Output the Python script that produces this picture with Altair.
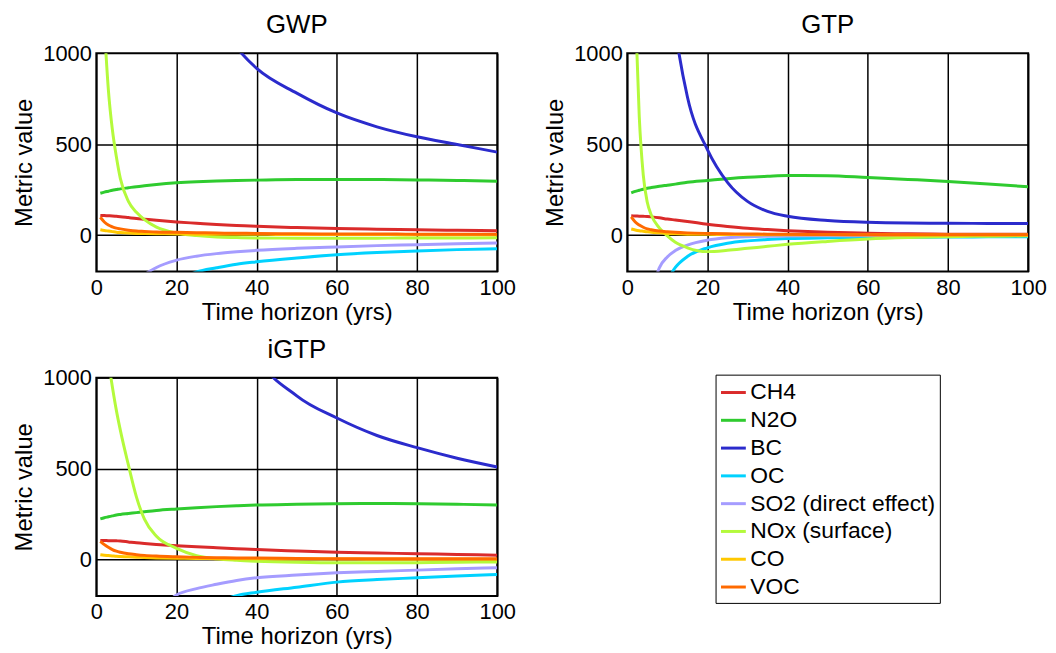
import altair as alt
import pandas as pd

SERIES = ["CH4", "N2O", "BC", "OC", "SO2 (direct effect)", "NOx (surface)", "CO", "VOC"]
COLORS = ["#DA2B2B", "#2FCB2F", "#2B2BCC", "#00D2FF", "#A59CFF", "#B4FA3C", "#FFC800", "#FF6A00"]

H = [1, 2, 3, 4, 5, 6, 8, 10, 12, 15, 20, 25, 30, 35, 40, 50, 60, 70, 80, 90, 100]
N = None

# ---- GWP ----
GWP_CH4 = [108, 107, 106, 105, 103, 101, 96, 91, 87, 81, 72, 65, 58, 53, 48, 41, 36, 32, 29, 26, 24]
GWP_N2O = [230, 236, 241, 246, 250, 254, 260, 266, 271, 278, 287, 293, 297, 300, 302, 305, 305, 305, 303, 300, 296]
GWP_BC = [N, N, N, N, N, N, N, N, N, N, 1650, 1380, 1180, 1030, 916, 780, 671, 595, 540, 498, 456]
GWP_OC = [N, N, N, N, N, N, N, N, N, N, -250, -203, -180, -160, -147, -126, -108, -96, -87, -80, -75]
GWP_SO2 = [N, N, N, N, N, N, N, -270, -220, -178, -138, -116, -102, -92, -84, -73, -65, -58, -53, -48, -44]
GWP_NOX = [N, 1150, 800, 580, 430, 310, 185, 125, 85, 44, 11, -3, -11, -14, -16, -17, -17, -17, -16, -16, -15]
GWP_CO = [29, 25, 22, 19, 16, 14, 11, 9, 8, 7, 6, 5, 5, 4, 4, 3, 3, 3, 2, 2, 2]
GWP_VOC = [98, 72, 55, 45, 38, 34, 27, 22, 20, 17, 15, 13, 11, 10, 9, 7, 6, 6, 5, 5, 5]

# ---- GTP ----
GTP_CH4 = [106, 105, 104, 103, 102, 100, 95, 88, 83, 75, 59, 47, 37, 30, 24, 15, 10, 7, 5, 4, 4]
GTP_N2O = [232, 240, 246, 252, 257, 261, 268, 274, 280, 290, 300, 310, 318, 323, 327, 326, 316, 306, 295, 281, 265]
GTP_BC = [N, N, N, N, N, N, N, 1500, 1130, 760, 470, 290, 185, 130, 103, 80, 70, 66, 65, 64, 64]
GTP_OC = [N, N, N, N, N, N, N, -250, -178, -118, -70, -45, -32, -24, -19, -15, -13, -12, -11, -10, -10]
GTP_SO2 = [N, N, N, N, N, -330, -180, -120, -85, -55, -28, -15, -9, -6, -5, -4, -3, -3, -2, -2, -2]
GTP_NOX = [N, 1250, 650, 330, 180, 110, 40, -5, -40, -70, -91, -84, -73, -62, -51, -35, -22, -14, -9, -6, -4]
GTP_CO = [33, 28, 24, 21, 18, 16, 12, 9, 7, 5, 4, 3, 2, 2, 1, 1, 1, 0, 0, 0, 0]
GTP_VOC = [100, 72, 55, 43, 34, 29, 22, 18, 15, 12, 9, 7, 6, 5, 4, 3, 2, 2, 1, 1, 1]

# ---- iGTP ----
IGTP_CH4 = [105, 105, 104, 104, 103, 102, 97, 92, 88, 83, 76, 70, 65, 60, 55, 47, 40, 36, 32, 28, 24]
IGTP_N2O = [224, 230, 235, 240, 245, 248, 253, 258, 263, 270, 278, 285, 291, 296, 300, 304, 307, 308, 307, 304, 300]
IGTP_BC = [N, N, N, N, N, N, N, N, N, N, N, N, 1750, 1400, 1130, 900, 778, 682, 615, 557, 509]
IGTP_OC = [N, N, N, N, N, N, N, N, N, N, N, N, -235, -198, -180, -152, -124, -110, -100, -90, -82]
IGTP_SO2 = [N, N, N, N, N, N, N, N, N, -290, -195, -160, -136, -115, -100, -85, -73, -65, -58, -51, -45]
IGTP_NOX = [N, N, 1090, 950, 820, 710, 520, 345, 222, 128, 62, 22, 4, -4, -9, -15, -18, -18, -17, -15, -13]
IGTP_CO = [27, 24, 22, 20, 18, 17, 15, 13, 11, 9, 7, 6, 5, 4, 4, 3, 3, 2, 2, 2, 2]
IGTP_VOC = [100, 82, 68, 55, 46, 40, 32, 27, 23, 19, 15, 12, 10, 9, 8, 6, 5, 5, 4, 4, 4]

X_TICKS = [0, 20, 40, 60, 80, 100]
Y_TICKS = [0, 500, 1000]
FONT = "Liberation Sans"


def long_df(columns):
    rows = []
    for name, vals in zip(SERIES, columns):
        for h, v in zip(H, vals):
            if v is not None:
                rows.append({"series": name, "H": h, "v": v})
    return pd.DataFrame(rows)


def panel(columns, title, legend=None):
    df = long_df(columns)
    return (
        alt.Chart(df)
        .mark_line(clip=True, strokeWidth=3, interpolate="monotone")
        .encode(
            x=alt.X("H:Q", scale=alt.Scale(domain=[0, 100], nice=False, zero=False),
                    axis=alt.Axis(values=X_TICKS, title="Time horizon (yrs)",
                                  labelPadding=6, titlePadding=2)),
            y=alt.Y("v:Q", scale=alt.Scale(domain=[-200, 1000], nice=False, zero=False),
                    axis=alt.Axis(values=Y_TICKS, title="Metric value", format="d",
                                  labelPadding=5, titlePadding=6)),
            color=alt.Color("series:N", scale=alt.Scale(domain=SERIES, range=COLORS), legend=legend),
        )
        .properties(width=404, height=220, title=title)
    )


legend = alt.Legend(
    title=None, orient="none", legendX=624, legendY=-3,
    symbolType="stroke", symbolSize=625, symbolStrokeWidth=3,
    labelFont=FONT, labelFontSize=23, labelColor="black", labelOffset=3, labelLimit=0,
    strokeColor="black", fillColor="white", padding=4, rowPadding=2,
)

gwp = panel([GWP_CH4, GWP_N2O, GWP_BC, GWP_OC, GWP_SO2, GWP_NOX, GWP_CO, GWP_VOC], "GWP")
gtp = panel([GTP_CH4, GTP_N2O, GTP_BC, GTP_OC, GTP_SO2, GTP_NOX, GTP_CO, GTP_VOC], "GTP")
igtp = panel([IGTP_CH4, IGTP_N2O, IGTP_BC, IGTP_OC, IGTP_SO2, IGTP_NOX, IGTP_CO, IGTP_VOC], "iGTP", legend)

chart = (
    alt.vconcat(alt.hconcat(gwp, gtp, spacing=26), igtp, spacing=11)
    .resolve_scale(color="independent")
    .resolve_legend(color="independent")
    .properties(padding={"left": 4, "top": 1, "right": 0, "bottom": 0}, background="white")
    .configure_axis(
        labelFont=FONT, labelFontSize=22, labelColor="black",
        labelFlush=False, labelOverlap=False,
        titleFont=FONT, titleFontSize=24, titleFontWeight="normal", titleColor="black",
        grid=True, gridColor="black", gridWidth=1.5, gridOpacity=1,
        domain=False, ticks=False,
    )
    .configure_view(stroke="black", strokeWidth=2)
    .configure_title(font=FONT, fontSize=26, fontWeight="normal", color="black", offset=4)
)

chart.save("out.html", embed_options={"renderer": "svg", "actions": False})
